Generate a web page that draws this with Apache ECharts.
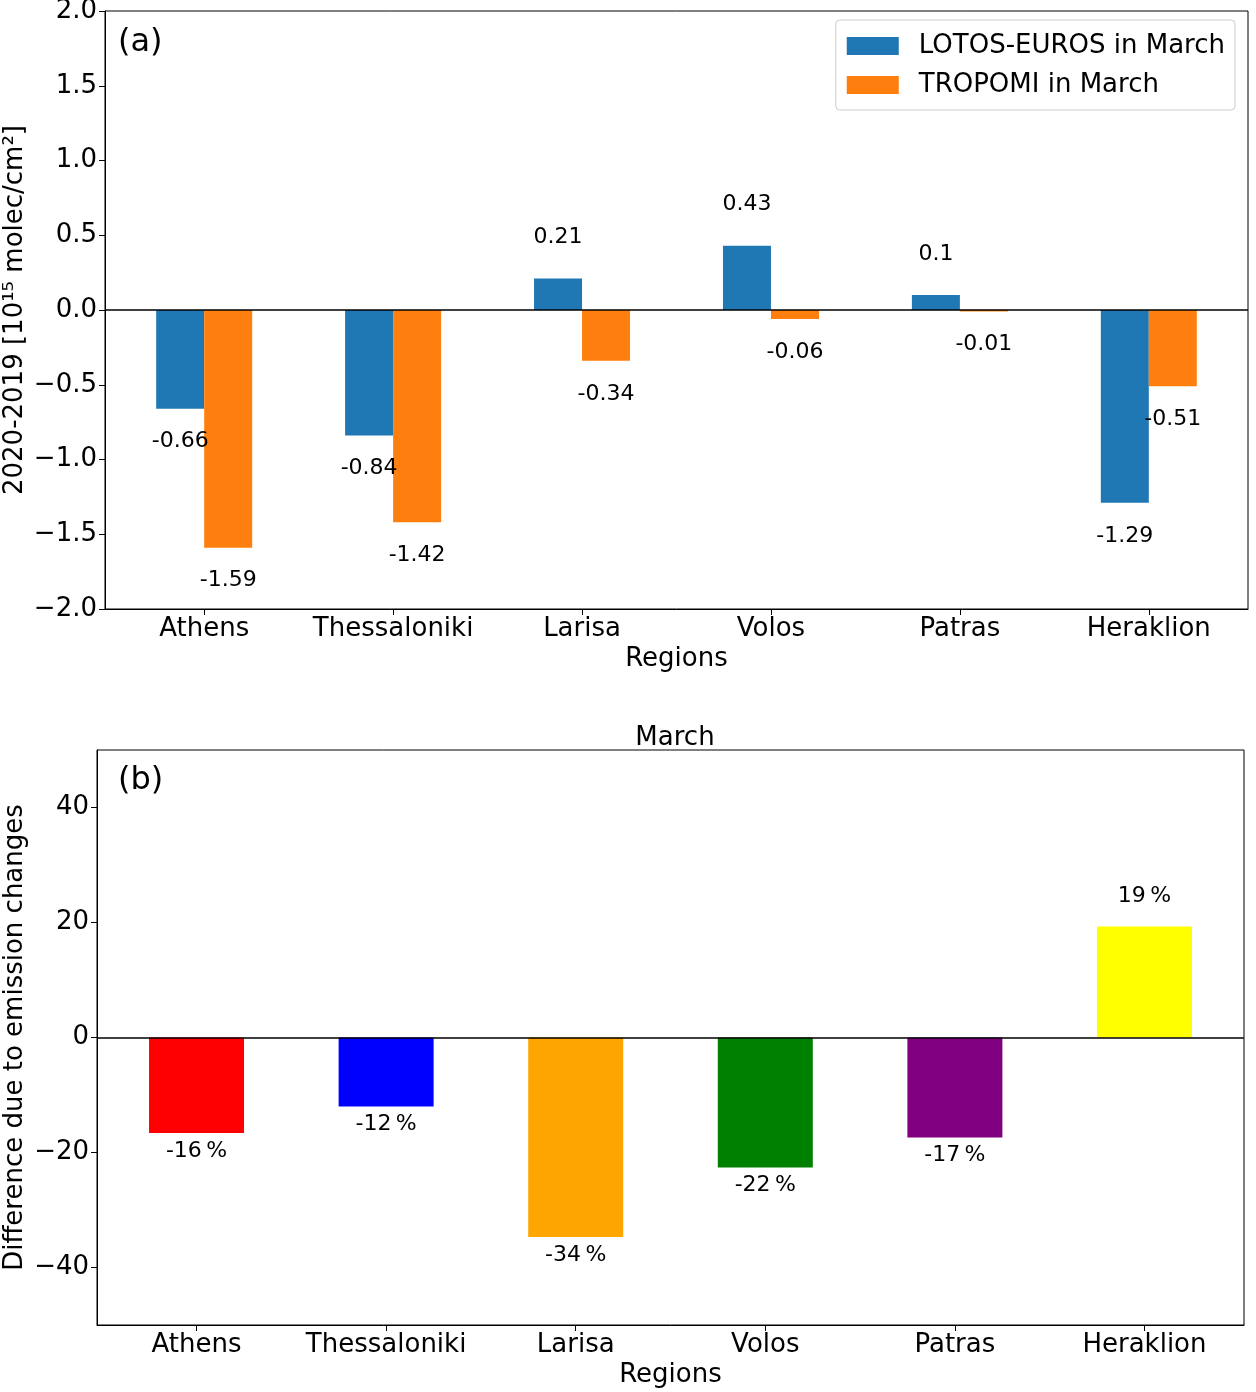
<!DOCTYPE html>
<html>
<head>
<meta charset="utf-8">
<script src="https://cdn.jsdelivr.net/npm/echarts@6/dist/echarts.min.js"></script>
<style>html,body{margin:0;padding:0;background:#fff}#c{width:1256px;height:1392px}</style>
</head>
<body>
<div id="c"></div>
<script>
const regions = ['Athens', 'Thessaloniki', 'Larisa', 'Volos', 'Patras', 'Heraklion'];
const lotosMarch = [-0.66, -0.84, 0.21, 0.43, 0.1, -1.29];
const tropomiMarch = [-1.59, -1.42, -0.34, -0.06, -0.01, -0.51];
const emissionDiff = [-16.6, -12.0, -34.7, -22.6, -17.4, 19.3];
const emissionLabels = ['-16', '-12', '-34', '-22', '-17', '19'];
const emissionColors = ['#ff0000', '#0000ff', '#ffa500', '#008000', '#800080', '#ffff00'];
const ticksB = [-40, -20, 0, 20, 40];

const FONT = 'DejaVu Sans';
const chart = echarts.init(document.getElementById('c'), null, {renderer: 'canvas'});

const regionIdx = regions.map((_, i) => i);
function minus(v) { return String(v).replace('-', '\u2212'); }

function barItemsA(vals) {
  return vals.map((v, i) => ({
    value: [i, v],
    label: {
      show: true,
      position: v < 0 ? 'bottom' : 'top',
      distance: v < 0 ? 22 : 30,
      formatter: String(v)
    }
  }));
}

const zeroLine = {
  silent: true, symbol: 'none',
  lineStyle: {color: '#000', width: 1.5, type: 'solid'},
  label: {show: false},
  data: [{yAxis: 0}]
};

// matplotlib-like x-limits around categories (5% margin)
const xPad = 0.525;
const xAxisCommon = {
  type: 'value',
  min: -xPad, max: regions.length - 1 + xPad,
  name: 'Regions',
  nameLocation: 'middle',
  nameMoveOverlap: false,
  nameTextStyle: {fontFamily: FONT, fontSize: 26, color: '#000'},
  axisLine: {show: true, onZero: false, lineStyle: {color: '#000', width: 1}},
  axisTick: {show: true, length: 6, customValues: regionIdx, lineStyle: {color: '#000'}},
  axisLabel: {fontFamily: FONT, fontSize: 26, color: '#000', margin: 7, customValues: regionIdx,
    formatter: v => regions[Math.round(v)] || ''},
  splitLine: {show: false}
};

const option = {
  animation: false,
  backgroundColor: '#fff',
  title: {
    text: 'March', left: 670, top: 720, textAlign: 'center',
    textStyle: {fontFamily: FONT, fontSize: 26, fontWeight: 'normal', color: '#000'}
  },
  legend: {
    data: ['LOTOS-EUROS in March', 'TROPOMI in March'],
    orient: 'vertical', right: 21, top: 20,
    itemWidth: 52, itemHeight: 18, itemGap: 13,
    padding: [13, 10, 12, 11],
    borderColor: '#cccccc', borderWidth: 1, borderRadius: 4,
    icon: 'rect',
    textStyle: {fontFamily: FONT, fontSize: 26, color: '#000', lineHeight: 26, padding: [0, 0, 0, 15]}
  },
  graphic: [
    {type: 'text', left: 118, top: 27, style: {text: '(a)', fontFamily: FONT, fontSize: 32, fill: '#000'}},
    {type: 'text', left: 118, top: 765, style: {text: '(b)', fontFamily: FONT, fontSize: 32, fill: '#000'}}
  ],
  grid: [
    {left: 105, right: 8, top: 11, height: 598, show: true, borderColor: '#000', borderWidth: 1,
     backgroundColor: 'transparent', containLabel: false, outerBoundsMode: 'none'},
    {left: 97, right: 12, top: 750, height: 575, show: true, borderColor: '#000', borderWidth: 1,
     backgroundColor: 'transparent', containLabel: false, outerBoundsMode: 'none'}
  ],
  xAxis: [
    Object.assign({}, xAxisCommon, {gridIndex: 0, nameGap: 37}),
    Object.assign({}, xAxisCommon, {gridIndex: 1, nameGap: 37})
  ],
  yAxis: [
    {
      type: 'value', gridIndex: 0, min: -2, max: 2, interval: 0.5,
      name: '2020-2019 [10\u00b9\u2075 molec/cm\u00b2]',
      nameLocation: 'middle', nameGap: 77, nameRotate: 90, nameMoveOverlap: false,
      nameTextStyle: {fontFamily: FONT, fontSize: 26, color: '#000'},
      axisLine: {show: true, onZero: false, lineStyle: {color: '#000'}},
      axisTick: {show: true, length: 6, lineStyle: {color: '#000'}},
      axisLabel: {fontFamily: FONT, fontSize: 26, color: '#000', margin: 8,
        formatter: v => minus(v.toFixed(1))},
      splitLine: {show: false}
    },
    {
      type: 'value', gridIndex: 1, min: -50, max: 50,
      name: 'Difference due to emission changes',
      nameLocation: 'middle', nameGap: 69, nameRotate: 90, nameMoveOverlap: false,
      nameTextStyle: {fontFamily: FONT, fontSize: 26, color: '#000'},
      axisLine: {show: true, onZero: false, lineStyle: {color: '#000'}},
      axisTick: {show: true, length: 6, lineStyle: {color: '#000'}, customValues: ticksB},
      axisLabel: {fontFamily: FONT, fontSize: 26, color: '#000', margin: 8, customValues: ticksB,
        formatter: v => minus(v)},
      splitLine: {show: false}
    }
  ],
  series: [
    {
      name: 'LOTOS-EUROS in March', type: 'bar', xAxisIndex: 0, yAxisIndex: 0,
      barWidth: 48, barGap: '0%',
      itemStyle: {color: '#1f77b4'},
      label: {fontFamily: FONT, fontSize: 22, color: '#000'},
      data: barItemsA(lotosMarch),
      markLine: zeroLine
    },
    {
      name: 'TROPOMI in March', type: 'bar', xAxisIndex: 0, yAxisIndex: 0,
      barWidth: 48, barGap: '0%',
      itemStyle: {color: '#ff7f0e'},
      label: {fontFamily: FONT, fontSize: 22, color: '#000'},
      data: barItemsA(tropomiMarch)
    },
    {
      name: 'Emission difference', type: 'bar', xAxisIndex: 1, yAxisIndex: 1,
      barWidth: 95,
      label: {fontFamily: FONT, fontSize: 22, color: '#000'},
      data: emissionDiff.map((v, i) => ({
        value: [i, v],
        itemStyle: {color: emissionColors[i]},
        label: {
          show: true,
          position: v < 0 ? 'bottom' : 'top',
          distance: v < 0 ? 7 : 19,
          formatter: emissionLabels[i] + '\u2009%'
        }
      })),
      markLine: zeroLine
    }
  ]
};
chart.setOption(option);
</script>
</body>
</html>
